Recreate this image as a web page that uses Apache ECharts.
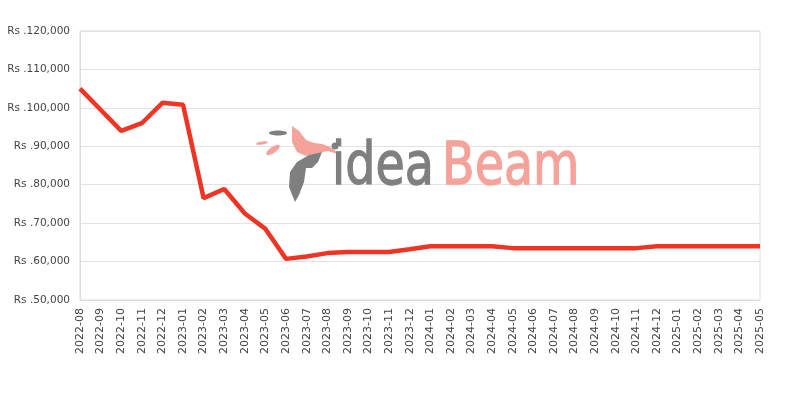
<!DOCTYPE html>
<html>
<head>
<meta charset="utf-8">
<script src="https://cdn.jsdelivr.net/npm/echarts@6/dist/echarts.min.js"></script>
<style>html,body{margin:0;padding:0;background:#fff;}#c{width:800px;height:400px;}</style>
</head>
<body>
<div id="c"></div>
<script>
const months = ['2022-08','2022-09','2022-10','2022-11','2022-12','2023-01','2023-02','2023-03','2023-04','2023-05','2023-06','2023-07','2023-08','2023-09','2023-10','2023-11','2023-12','2024-01','2024-02','2024-03','2024-04','2024-05','2024-06','2024-07','2024-08','2024-09','2024-10','2024-11','2024-12','2025-01','2025-02','2025-03','2025-04','2025-05'];
const prices = [104999,99500,93999,95999,101299,100799,76499,78899,72499,68499,60699,61299,62199,62499,62499,62499,63199,63999,63999,63999,63999,63499,63499,63499,63499,63499,63499,63499,63999,63999,63999,63999,63999,63999];
const yMin = 50000, yMax = 120000, yStep = 10000;

const chart = echarts.init(document.getElementById('c'));
chart.setOption({
  animation: false,
  backgroundColor: '#fff',
  grid: { left: 80, right: 40, top: 31, bottom: 100, show: true, borderColor: '#dcdcdc', borderWidth: 1 },
  xAxis: {
    type: 'category', data: months, boundaryGap: false,
    axisLine: { lineStyle: { color: '#dcdcdc' } },
    axisTick: { show: false },
    axisLabel: { rotate: 90, interval: 0, color: '#444', fontSize: 11, fontFamily: 'DejaVu Sans', margin: 8 }
  },
  yAxis: {
    type: 'value', min: yMin, max: yMax, interval: yStep,
    axisLine: { show: true, lineStyle: { color: '#dcdcdc' } },
    axisTick: { show: false },
    splitLine: { lineStyle: { color: '#e2e2e2' } },
    axisLabel: { color: '#444', fontSize: 10.5, fontFamily: 'DejaVu Sans', margin: 10,
      formatter: v => 'Rs .' + v.toLocaleString('en-US') }
  },
  graphic: [
    { type: 'polygon', z: 1, silent: true, shape: { points: [[292,126],[299,131],[306,140],[314,143],[322,144],[330,147],[341,155],[328,151],[318,153],[306,156],[297,152],[292,142]] }, style: { fill: '#f4a29a' } },
    { type: 'polygon', z: 1, silent: true, shape: { points: [[295,202],[289,187],[290,172],[297,162],[309,155],[322,152],[318,162],[312,168],[306,168],[304,182],[299,195]] }, style: { fill: '#7f7f7f' } },
    { type: 'ellipse', z: 1, silent: true, shape: { cx: 278, cy: 133, rx: 9, ry: 2.5 }, style: { fill: '#7f7f7f' } },
    { type: 'ellipse', z: 1, silent: true, rotation: 0.15, x: 262, y: 143, shape: { cx: 0, cy: 0, rx: 6, ry: 1.6 }, style: { fill: '#f4a29a' } },
    { type: 'ellipse', z: 1, silent: true, rotation: 0.6, x: 273, y: 150, shape: { cx: 0, cy: 0, rx: 8, ry: 3 }, style: { fill: '#f4a29a' } },
    { type: 'circle', z: 1, silent: true, shape: { cx: 335, cy: 146, r: 3.5 }, style: { fill: '#7f7f7f' } },
    { type: 'text', z: 1, silent: true, x: 332, y: 198, scaleX: 0.82, style: { text: 'idea', x: 0, y: 0, font: '58px "DejaVu Sans"', fill: '#7f7f7f', stroke: '#7f7f7f', lineWidth: 1.3, textVerticalAlign: 'bottom' } },
    { type: 'text', z: 1, silent: true, x: 442, y: 198, scaleX: 0.82, style: { text: 'Beam', x: 0, y: 0, font: '58px "DejaVu Sans"', fill: '#f4a29a', stroke: '#f4a29a', lineWidth: 1.3, textVerticalAlign: 'bottom' } }
  ],
  series: [{
    type: 'line', data: prices, showSymbol: false, z: 5,
    lineStyle: { color: '#ef3424', width: 4.5 }
  }]
});
</script>
</body>
</html>
